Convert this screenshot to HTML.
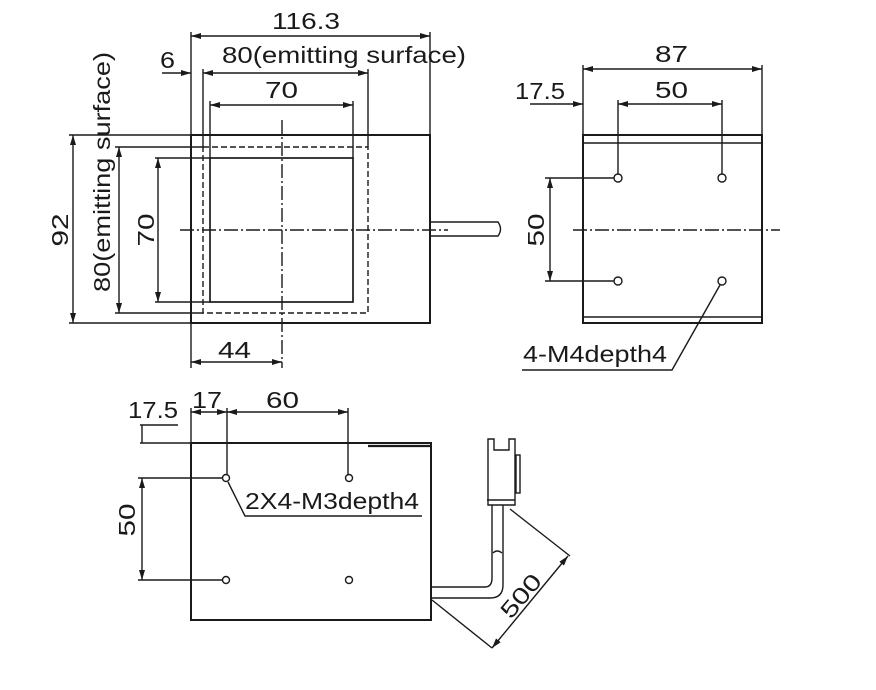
<!DOCTYPE html>
<html><head><meta charset="utf-8"><style>
html,body{margin:0;padding:0;background:#fff;width:876px;height:690px;overflow:hidden}
svg{display:block}
text{font-family:"Liberation Sans",Arial,sans-serif;font-size:23px;fill:#1a1a1a}
</style></head><body>
<svg width="876" height="690" viewBox="0 0 876 690" xmlns="http://www.w3.org/2000/svg">
<defs>
<marker id="a" viewBox="0 0 10 6" refX="10" refY="3" markerWidth="10" markerHeight="6" orient="auto-start-reverse" markerUnits="userSpaceOnUse"><path d="M0,0L10,3L0,6z" fill="#1a1a1a"/></marker>
</defs>
<g stroke="#1a1a1a" fill="none" stroke-width="1.4">
<rect x="191" y="135" width="239" height="188" stroke-width="2"/>
<rect x="203" y="147" width="165" height="166" stroke-dasharray="6,3"/>
<rect x="210" y="158" width="143" height="144" stroke-width="1.7"/>
<line x1="180" y1="230" x2="448" y2="230" stroke-dasharray="14,3,2,3"/>
<line x1="282" y1="120" x2="282" y2="368" stroke-dasharray="14,3,2,3"/>
<path d="M430,222H498Q503,229 498,236H430"/>
<line x1="191" y1="32" x2="191" y2="135"/><line x1="430" y1="32" x2="430" y2="135"/>
<line x1="191" y1="36" x2="430" y2="36" marker-start="url(#a)" marker-end="url(#a)"/>
<line x1="203" y1="69" x2="203" y2="147"/><line x1="368" y1="69" x2="368" y2="147"/>
<line x1="203" y1="73" x2="368" y2="73" marker-start="url(#a)" marker-end="url(#a)"/>
<line x1="162" y1="73" x2="191" y2="73" marker-end="url(#a)"/>
<line x1="210" y1="101" x2="210" y2="158"/><line x1="353" y1="101" x2="353" y2="158"/>
<line x1="210" y1="105" x2="353" y2="105" marker-start="url(#a)" marker-end="url(#a)"/>
<line x1="191" y1="323" x2="191" y2="368"/>
<line x1="191" y1="362" x2="282" y2="362" marker-start="url(#a)" marker-end="url(#a)"/>
<line x1="69" y1="135" x2="191" y2="135"/><line x1="69" y1="323" x2="191" y2="323"/>
<line x1="73" y1="135" x2="73" y2="323" marker-start="url(#a)" marker-end="url(#a)"/>
<line x1="115" y1="147" x2="203" y2="147"/><line x1="115" y1="313" x2="203" y2="313"/>
<line x1="119" y1="147" x2="119" y2="313" marker-start="url(#a)" marker-end="url(#a)"/>
<line x1="155" y1="158" x2="210" y2="158"/><line x1="155" y1="302" x2="210" y2="302"/>
<line x1="158" y1="158" x2="158" y2="302" marker-start="url(#a)" marker-end="url(#a)"/>

<rect x="583" y="135" width="179" height="188" stroke-width="2"/>
<line x1="583" y1="143" x2="762" y2="143"/><line x1="583" y1="317" x2="762" y2="317"/>
<line x1="573" y1="230" x2="780" y2="230" stroke-dasharray="14,3,2,3"/>
<line x1="583" y1="65" x2="583" y2="135"/><line x1="762" y1="65" x2="762" y2="135"/>
<line x1="583" y1="69" x2="762" y2="69" marker-start="url(#a)" marker-end="url(#a)"/>
<line x1="618" y1="100" x2="618" y2="174"/><line x1="722" y1="100" x2="722" y2="174"/>
<line x1="618" y1="104" x2="722" y2="104" marker-start="url(#a)" marker-end="url(#a)"/>
<line x1="530" y1="104" x2="583" y2="104" marker-end="url(#a)"/>
<circle cx="618" cy="178" r="4"/><circle cx="722" cy="178" r="4"/>
<circle cx="618" cy="281" r="4"/><circle cx="722" cy="281" r="4"/>
<line x1="545" y1="178" x2="614" y2="178"/><line x1="545" y1="281" x2="614" y2="281"/>
<line x1="550" y1="178" x2="550" y2="281" marker-start="url(#a)" marker-end="url(#a)"/>
<polyline points="720,285 672,370 522,370"/>

<rect x="191" y="443" width="240" height="177" stroke-width="2"/>
<line x1="368" y1="446" x2="431" y2="446" stroke-width="2.2"/>
<line x1="140" y1="443" x2="191" y2="443"/>
<line x1="140" y1="425" x2="178" y2="425"/>
<line x1="142" y1="425" x2="142" y2="443"/>
<line x1="191" y1="408" x2="191" y2="443"/>
<line x1="227" y1="408" x2="227" y2="474"/><line x1="348" y1="408" x2="348" y2="474"/>
<line x1="191" y1="412" x2="227" y2="412" marker-start="url(#a)" marker-end="url(#a)"/>
<line x1="227" y1="412" x2="348" y2="412" marker-start="url(#a)" marker-end="url(#a)"/>
<circle cx="226" cy="478" r="3.5"/><circle cx="349" cy="478" r="3.5"/>
<circle cx="226" cy="580" r="3.5"/><circle cx="349" cy="580" r="3.5"/>
<line x1="138" y1="478" x2="222" y2="478"/><line x1="138" y1="580" x2="222" y2="580"/>
<line x1="142" y1="478" x2="142" y2="580" marker-start="url(#a)" marker-end="url(#a)"/>
<polyline points="228,482 245,516 422,516"/>
<path d="M431,587H485Q492,587 492,578V505"/>
<path d="M431,598H490Q503,598 503,585V505"/>
<path d="M493,553Q497,549 502,553"/>
<path d="M488,505V439H494V450H509V439H515V505Z"/>
<line x1="487" y1="500" x2="515" y2="500"/>
<rect x="516" y="455" width="4" height="38"/>
<line x1="432" y1="600" x2="492" y2="648"/>
<line x1="510" y1="509" x2="570" y2="556"/>
<line x1="492" y1="648" x2="568" y2="556" marker-start="url(#a)" marker-end="url(#a)"/>
</g>
<g>
<text x="272" y="29" textLength="68" lengthAdjust="spacingAndGlyphs">116.3</text>
<text x="222" y="63" textLength="244" lengthAdjust="spacingAndGlyphs">80(emitting surface)</text>
<text x="160" y="68" textLength="15" lengthAdjust="spacingAndGlyphs">6</text>
<text x="265" y="98" textLength="33" lengthAdjust="spacingAndGlyphs">70</text>
<text x="218" y="358" textLength="33" lengthAdjust="spacingAndGlyphs">44</text>
<text transform="translate(68,230) rotate(-90)" text-anchor="middle" textLength="33" lengthAdjust="spacingAndGlyphs">92</text>
<text transform="translate(110,172) rotate(-90)" text-anchor="middle" textLength="240" lengthAdjust="spacingAndGlyphs">80(emitting surface)</text>
<text transform="translate(154,230) rotate(-90)" text-anchor="middle" textLength="33" lengthAdjust="spacingAndGlyphs">70</text>
<text x="655" y="62" textLength="33" lengthAdjust="spacingAndGlyphs">87</text>
<text x="655" y="98" textLength="33" lengthAdjust="spacingAndGlyphs">50</text>
<text x="515" y="99" textLength="50" lengthAdjust="spacingAndGlyphs">17.5</text>
<text transform="translate(544,230) rotate(-90)" text-anchor="middle" textLength="33" lengthAdjust="spacingAndGlyphs">50</text>
<text x="523" y="362" textLength="144" lengthAdjust="spacingAndGlyphs">4-M4depth4</text>
<text x="128" y="418" textLength="50" lengthAdjust="spacingAndGlyphs">17.5</text>
<text x="192" y="408" textLength="30" lengthAdjust="spacingAndGlyphs">17</text>
<text x="266" y="408" textLength="33" lengthAdjust="spacingAndGlyphs">60</text>
<text transform="translate(135,520) rotate(-90)" text-anchor="middle" textLength="33" lengthAdjust="spacingAndGlyphs">50</text>
<text x="245" y="509" textLength="174" lengthAdjust="spacingAndGlyphs">2X4-M3depth4</text>
<text transform="translate(527,601) rotate(-50)" text-anchor="middle" textLength="50" lengthAdjust="spacingAndGlyphs">500</text>
</g>
</svg>
</body></html>
